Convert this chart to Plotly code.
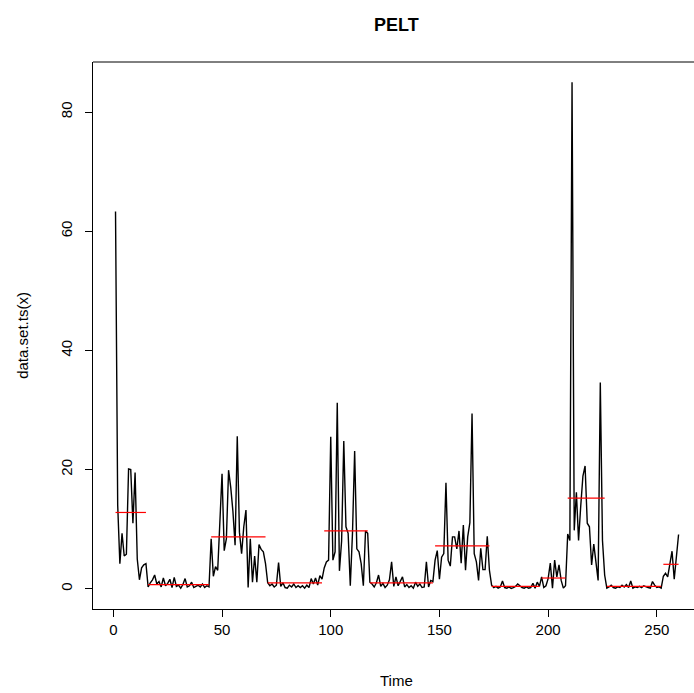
"""PELT changepoint plot: time series with segment means."""

import plotly.graph_objects as go

# observed series, split by the segments PELT found
seg1_values = [63.3, 14.0, 4.2, 9.3, 5.5, 5.8, 20.1, 20.0, 11.0, 19.5, 5.0, 1.5, 3.5, 4.0, 4.2]
seg2_values = [0.3, 1.0, 1.5, 2.3, 0.8, 1.2, 0.3, 1.8, 0.5, 0.9, 1.6, 0.2, 1.9, 0.4, 0.6,
               0.1, 0.7, 1.7, 0.3, 0.5, 1.1, 0.2, 0.4, 0.6, 0.3, 0.8, 0.2, 0.5, 0.3]
seg3_values = [8.4, 2.1, 3.7, 3.1, 12.0, 19.3, 6.4, 8.4, 19.9, 17.0, 13.0, 7.3, 25.6, 9.5,
               5.9, 10.4, 13.2, 0.2, 8.4, 1.1, 5.5, 1.1, 7.4, 6.6, 6.2, 4.2]
seg4_values = [1.0, 0.5, 0.8, 0.3, 0.6, 4.4, 0.4, 1.0, 0.2, 0.1, 0.6, 0.3, 0.8, 0.2, 0.5,
               0.2, 0.5, 0.1, 0.6, 0.2, 1.7, 0.8, 1.8, 0.6, 2.2, 1.6]
seg5_values = [3.5, 4.5, 4.8, 25.5, 4.8, 6.2, 31.2, 3.0, 8.0, 24.8, 10.4, 9.3, 0.5, 9.3,
               23.1, 6.7, 6.2, 4.2, 0.5, 9.7, 9.3]
seg6_values = [1.1, 0.8, 0.3, 1.0, 2.3, 0.4, 0.9, 0.2, 0.6, 1.5, 4.5, 0.4, 2.0, 0.5, 1.2,
               2.0, 0.3, 0.7, 0.2, 0.5, 0.1, 1.1, 0.4, 0.8, 0.2, 0.3, 4.5, 0.3, 1.4, 1.2]
seg7_values = [4.8, 6.4, 1.6, 5.3, 5.9, 17.8, 4.8, 3.8, 8.7, 8.7, 6.7, 9.7, 4.3, 10.7,
               3.1, 8.7, 11.1, 29.4, 5.9, 4.5, 1.4, 6.8, 3.2, 3.2, 8.8, 3.1]
seg8_values = [0.6, 0.2, 0.4, 0.1, 0.3, 1.3, 0.2, 0.1, 0.3, 0.05, 0.2, 0.4, 0.8, 0.5,
               0.2, 0.1, 0.3, 0.1, 0.2, 0.9, 0.1, 1.1, 0.4]
seg9_values = [2.0, 0.2, 0.5, 1.7, 4.3, 0.1, 4.8, 2.0, 4.0, 1.4, 0.1, 0.5]
seg10_values = [9.2, 8.1, 85.0, 9.8, 16.2, 8.1, 13.9, 18.9, 20.6, 11.0, 10.4, 4.0, 7.5,
                4.0, 1.4, 34.6, 8.1, 2.3]
seg11_values = [0.1, 0.3, 0.6, 0.2, 0.1, 0.3, 0.2, 0.6, 0.3, 0.7, 0.2, 1.3, 0.1, 0.3,
                0.2, 0.4, 0.2, 0.5, 0.3, 0.2, 0.1, 1.2, 0.6, 0.2, 0.3, 0.1]
seg12_values = [2.1, 2.6, 2.0, 4.0, 6.3, 1.6, 5.3, 9.1]

# segment means (red lines)
segment_means = [12.8, 0.7, 8.7, 1.0, 9.7, 1.0, 7.2, 0.4, 1.8, 15.2, 0.4, 4.1]

x_ticks = [0, 50, 100, 150, 200, 250]
y_ticks = [0, 20, 40, 60, 80]

segments = [seg1_values, seg2_values, seg3_values, seg4_values, seg5_values, seg6_values,
            seg7_values, seg8_values, seg9_values, seg10_values, seg11_values, seg12_values]

series = [v for seg in segments for v in seg]
time = list(range(1, len(series) + 1))

# red mean lines run from the first to the last index of each segment
mean_x, mean_y = [], []
start = 1
for seg, m in zip(segments, segment_means):
    end = start + len(seg) - 1
    mean_x += [start, end, None]
    mean_y += [m, m, None]
    start = end + 1

FONT = "Liberation Sans, Arial, Helvetica, sans-serif"

fig = go.Figure()
fig.add_trace(go.Scatter(x=time, y=series, mode="lines",
                         line=dict(color="black", width=1.4), hoverinfo="skip"))
fig.add_trace(go.Scatter(x=mean_x, y=mean_y, mode="lines",
                         line=dict(color="#ff0000", width=1.2), hoverinfo="skip"))

axis_common = dict(
    showgrid=False, zeroline=False, showline=True, linecolor="black", linewidth=1,
    ticks="outside", ticklen=7, tickwidth=1, tickcolor="black",
    tickfont=dict(family=FONT, size=15, color="black"),
)

fig.update_layout(
    width=694, height=693,
    margin=dict(l=93, r=0, t=62, b=84, pad=0),
    paper_bgcolor="white", plot_bgcolor="white",
    showlegend=False,
    font=dict(family=FONT, color="black"),
    xaxis=dict(range=[-9.36, 267.1], tickvals=x_ticks, **axis_common),
    yaxis=dict(range=[-3.4, 88.4], tickvals=y_ticks, tickangle=-90,
               ticklabelstandoff=7, **axis_common),
    shapes=[dict(type="line", xref="paper", yref="paper", x0=0, x1=1, y0=1, y1=1,
                 line=dict(color="black", width=1))],
    annotations=[
        dict(text="<b>PELT</b>", x=0.5057, y=1.067, xref="paper", yref="paper",
             showarrow=False, xanchor="center", yanchor="middle",
             font=dict(family=FONT, size=18, color="black")),
        dict(text="Time", x=0.5057, y=-0.130, xref="paper", yref="paper",
             showarrow=False, xanchor="center", yanchor="middle",
             font=dict(family=FONT, size=15, color="black")),
        dict(text="data.set.ts(x)", x=-0.1176, y=0.5, xref="paper", yref="paper",
             showarrow=False, xanchor="center", yanchor="middle", textangle=-90,
             font=dict(family=FONT, size=15, color="black")),
    ],
)

fig.write_html("out.html", config={"displayModeBar": False},
               post_script="document.body.style.margin='0';")
